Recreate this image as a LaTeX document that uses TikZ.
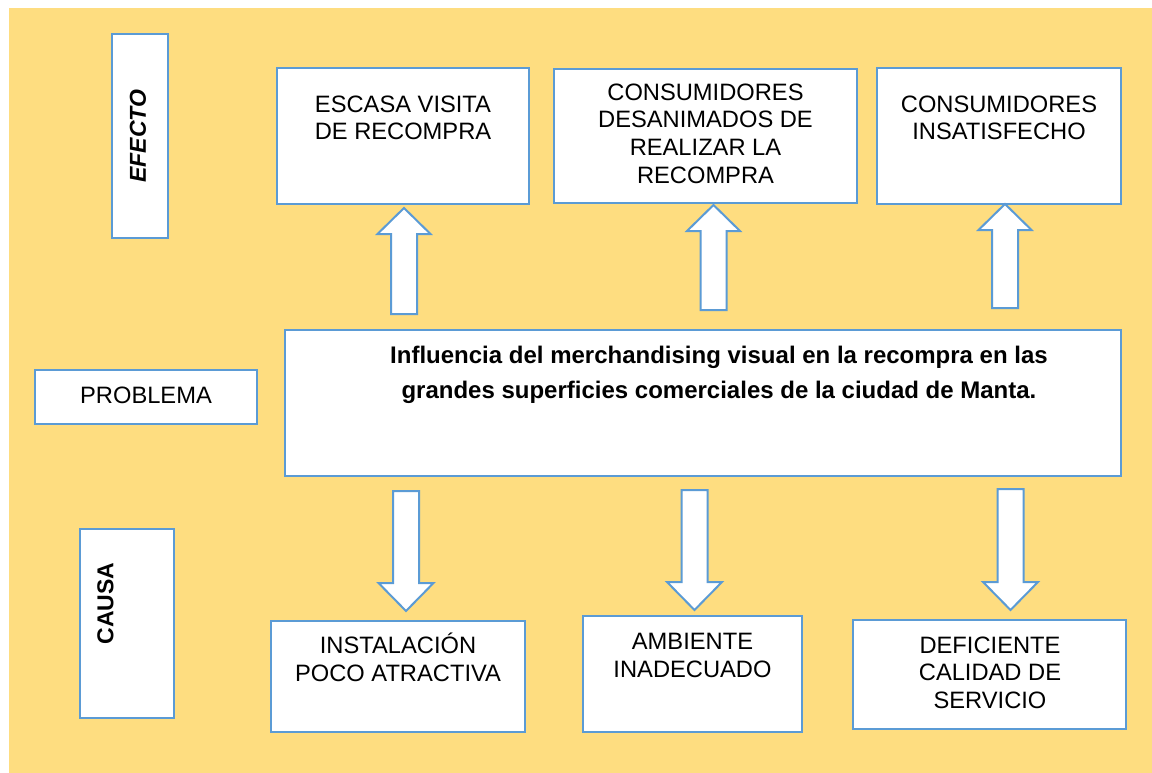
\documentclass[tikz,border=0pt]{standalone}
\usepackage{fontspec}
\setmainfont{Liberation Sans}
\definecolor{bgyellow}{RGB}{254,221,128}
\definecolor{boxblue}{RGB}{91,155,213}
\newcommand{\uparrowblk}[4]{% name, cx, ybottom, ytip
  \draw[barrow] (#2-13,#3) -- (#2+13,#3) -- (#2+13,#4+26) -- (#2+26.5,#4+26) -- (#2,#4) -- (#2-26.5,#4+26) -- (#2-13,#4+26) -- cycle;}
\newcommand{\downarrowblk}[4]{% name, cx, ytop, ytip
  \draw[barrow] (#2-13,#3) -- (#2+13,#3) -- (#2+13,#4-28) -- (#2+27.5,#4-28) -- (#2,#4) -- (#2-27.5,#4-28) -- (#2-13,#4-28) -- cycle;}
\begin{document}
\begin{tikzpicture}[x=1pt,y=-1pt,
  box/.style={draw=boxblue, line width=2pt, fill=white, inner sep=0pt},
  txt/.style={font=\fontsize{23.7}{27.5}\selectfont, align=center, anchor=base, inner sep=0pt},
  ttl/.style={font=\fontsize{24}{35}\selectfont\bfseries, align=center, anchor=base, inner sep=0pt},
  barrow/.style={draw=boxblue, line width=2pt, fill=white, line join=miter}]
\useasboundingbox (0,0) rectangle (1152,773);
\fill[bgyellow] (9,8) rectangle (1152,773);
% side labels
\node[box, minimum width=56, minimum height=204] (efecto) at (140,136) {};
\node[rotate=90, inner sep=0pt, font=\fontsize{23}{27}\selectfont\bfseries\itshape] (efectotxt) at (138,136) {EFECTO};
\node[box, minimum width=222, minimum height=54] (problema) at (146,397) {};
\node[txt] (problematxt) at (146,403) {PROBLEMA};
\node[box, minimum width=94, minimum height=189] (causa) at (127,623.5) {};
\node[rotate=90, inner sep=0pt, font=\fontsize{23}{27}\selectfont\bfseries] (causatxt) at (105.5,603.5) {CAUSA};
% effect boxes
\node[box, minimum width=252, minimum height=136] (e1) at (403,136) {};
\node[txt] (e1txt) at (403,140) {ESCASA VISITA\\DE RECOMPRA};
\node[box, minimum width=303, minimum height=134] (e2) at (705.5,136) {};
\node[txt] (e2txt) at (705.5,183) {CONSUMIDORES\\DESANIMADOS DE\\REALIZAR LA\\RECOMPRA};
\node[box, minimum width=244, minimum height=136] (e3) at (999,136) {};
\node[txt] (e3txt) at (999,140) {CONSUMIDORES\\INSATISFECHO};
% problem
\node[box, minimum width=836, minimum height=146] (main) at (703,403) {};
\node[ttl] (maintxt) at (719,398) {Influencia del merchandising visual en la recompra en las\\grandes superficies comerciales de la ciudad de Manta.};
% cause boxes
\node[box, minimum width=254, minimum height=111] (c1) at (398,676.5) {};
\node[txt] (c1txt) at (398,681) {INSTALACIÓN\\POCO ATRACTIVA};
\node[box, minimum width=219, minimum height=116] (c2) at (692.5,674) {};
\node[txt] (c2txt) at (692.5,677) {AMBIENTE\\INADECUADO};
\node[box, minimum width=273, minimum height=109] (c3) at (989.5,674.5) {};
\node[txt] (c3txt) at (990,708) {DEFICIENTE\\CALIDAD DE\\SERVICIO};
% block arrows
\uparrowblk{u1}{404}{314}{208}
\uparrowblk{u2}{713.5}{310}{205}
\uparrowblk{u3}{1005}{308}{204}
\downarrowblk{d1}{406}{491}{611}
\downarrowblk{d2}{694.5}{490}{610}
\downarrowblk{d3}{1010.5}{489}{610}
\end{tikzpicture}
\end{document}
